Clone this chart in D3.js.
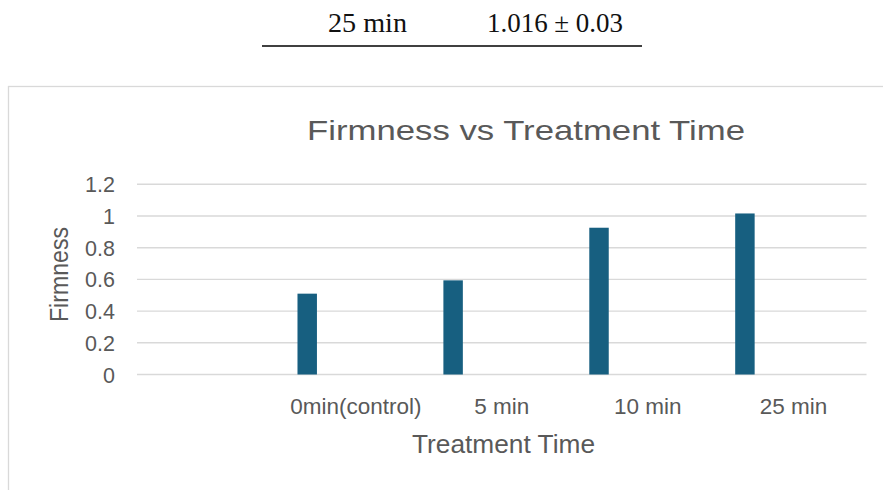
<!DOCTYPE html>
<html>
<head>
<meta charset="utf-8">
<script src="https://cdn.jsdelivr.net/npm/d3@7"></script>
<style>
  html, body { margin: 0; padding: 0; background: #fff; }
  svg { display: block; }
</style>
</head>
<body>
<svg id="chart" width="883" height="490"></svg>
<script>
// ---- data ----
const categories = ["", "0min(control)", "5 min", "10 min", "25 min"];
const firmness = [null, 0.51, 0.594, 0.926, 1.016];
const seriesSlots = [0, 1, 2, 3, 4, 5]; // clustered layout: 6 series slots, only first filled
const yTicks = [0, 0.2, 0.4, 0.6, 0.8, 1, 1.2];
const chartTitle = "Firmness vs Treatment Time";
const xTitle = "Treatment Time";
const yTitle = "Firmness";
const tableRow = ["25 min", "1.016 ± 0.03"];

const svg = d3.select("#chart");
const W = 883, H = 490;
const textColor = "#595959";
const sans = "'Liberation Sans', Arial, sans-serif";

// ---- top table fragment ----
svg.append("text").attr("x", 367.5).attr("y", 32).attr("text-anchor", "middle")
  .attr("font-family", "'Liberation Serif', 'Times New Roman', serif").attr("font-size", 27)
  .attr("fill", "#111").attr("textLength", 79).attr("lengthAdjust", "spacingAndGlyphs")
  .text(tableRow[0]);
svg.append("text").attr("x", 555).attr("y", 32).attr("text-anchor", "middle")
  .attr("font-family", "'Liberation Serif', 'Times New Roman', serif").attr("font-size", 27)
  .attr("fill", "#111").attr("textLength", 136).attr("lengthAdjust", "spacingAndGlyphs")
  .text(tableRow[1]);
svg.append("line").attr("x1", 262).attr("x2", 642).attr("y1", 46).attr("y2", 46)
  .attr("stroke", "#000").attr("stroke-width", 1.6);

// ---- chart frame ----
svg.append("rect").attr("x", 8.5).attr("y", 86.5).attr("width", W).attr("height", H)
  .attr("fill", "#fff").attr("stroke", "#d9d9d9").attr("stroke-width", 1.3);

// ---- scales ----
const plot = { left: 137, right: 866.5, top: 184.3, bottom: 374.5 };
const x = d3.scaleBand().domain(categories).range([plot.left, plot.right]).padding(0);
const y = d3.scaleLinear().domain([0, 1.2]).range([plot.bottom, plot.top]);
const x1 = d3.scaleBand().domain(seriesSlots).range([0, x.bandwidth()])
  .paddingInner(0).paddingOuter(0.75);

// ---- gridlines ----
svg.append("g").selectAll("line").data(yTicks).join("line")
  .attr("x1", plot.left).attr("x2", plot.right)
  .attr("y1", d => y(d)).attr("y2", d => y(d))
  .attr("stroke", "#d9d9d9").attr("stroke-width", 1.4);

// ---- y axis labels ----
const yAxis = d3.axisLeft(y).tickValues(yTicks).tickSize(0).tickPadding(0)
  .tickFormat(d => d3.format("~g")(d));
const yG = svg.append("g").attr("transform", `translate(${plot.left - 22},0)`).call(yAxis);
yG.select(".domain").remove();
yG.selectAll("text").attr("font-family", sans).attr("font-size", 21.5)
  .attr("fill", textColor).attr("dy", "0.35em");

// ---- bars ----
const barData = categories.map((c, i) => ({ c, v: firmness[i] })).filter(d => d.v != null);
svg.append("g").selectAll("rect").data(barData).join("rect")
  .attr("x", d => x(d.c) + x1(0))
  .attr("width", x1.bandwidth())
  .attr("y", d => y(d.v))
  .attr("height", d => y(0) - y(d.v))
  .attr("fill", "#175f80");

// ---- x axis labels ----
const xAxis = d3.axisBottom(x).tickSize(0).tickPadding(0);
const xG = svg.append("g").attr("transform", `translate(0,${plot.bottom})`).call(xAxis);
xG.select(".domain").remove();
xG.selectAll("text").attr("font-family", sans).attr("font-size", 22.5)
  .attr("fill", textColor).attr("y", 39.5).attr("dy", 0);

// ---- titles ----
svg.append("text").attr("x", 526).attr("y", 140).attr("text-anchor", "middle")
  .attr("font-family", sans).attr("font-size", 28.5).attr("fill", textColor)
  .attr("textLength", 438).attr("lengthAdjust", "spacingAndGlyphs")
  .text(chartTitle);
svg.append("text").attr("x", 503.5).attr("y", 453).attr("text-anchor", "middle")
  .attr("font-family", sans).attr("font-size", 25).attr("fill", textColor)
  .attr("textLength", 183).attr("lengthAdjust", "spacingAndGlyphs")
  .text(xTitle);
svg.append("text").attr("transform", "translate(68,274.5) rotate(-90)")
  .attr("text-anchor", "middle")
  .attr("font-family", sans).attr("font-size", 26).attr("fill", textColor)
  .attr("textLength", 95).attr("lengthAdjust", "spacingAndGlyphs")
  .text(yTitle);
</script>
</body>
</html>
